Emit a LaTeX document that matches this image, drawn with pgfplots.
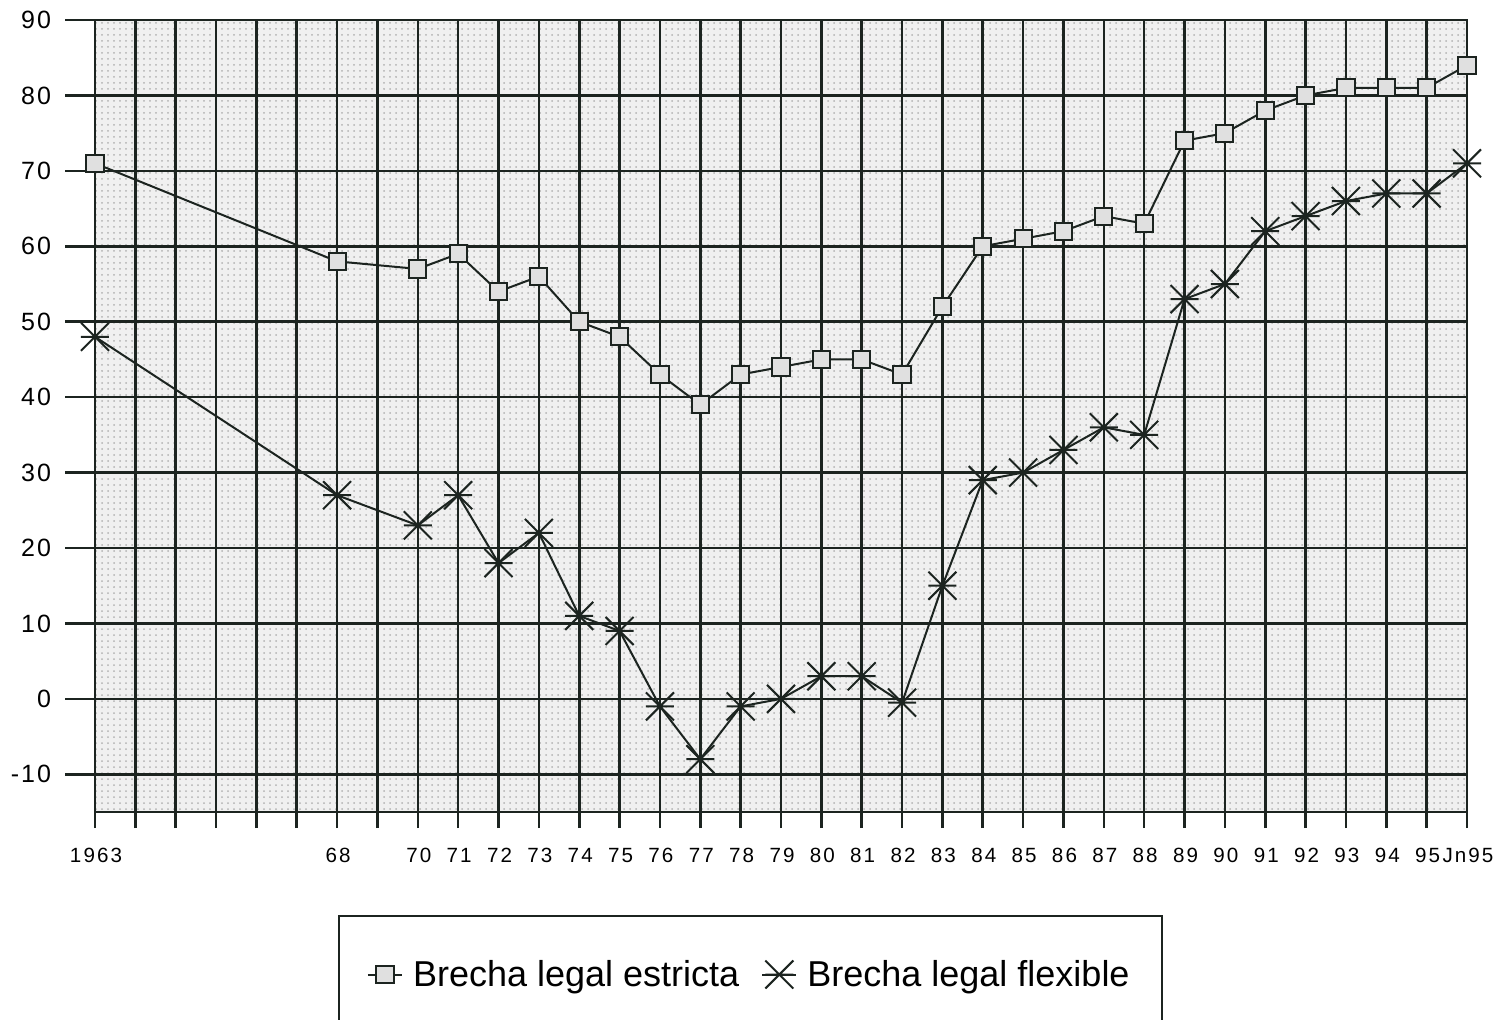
\documentclass[border=0pt]{standalone}
\usepackage{fontspec}
\setmainfont{Liberation Sans}
\newfontfamily\xtrackfont[LetterSpace=10]{Liberation Sans}
\newfontfamily\ytrackfont[LetterSpace=8]{Liberation Sans}
\usepackage{pgfplots}
\usepackage{pgfplotstable}
\pgfplotsset{compat=1.18}
\usetikzlibrary{patterns}
\definecolor{ink}{RGB}{28,36,32}
\pgfdeclareplotmark{xstar}{%
  \pgfpathmoveto{\pgfqpoint{-\pgfplotmarksize}{0pt}}%
  \pgfpathlineto{\pgfqpoint{\pgfplotmarksize}{0pt}}%
  \pgfpathmoveto{\pgfqpoint{-\pgfplotmarksize}{-\pgfplotmarksize}}%
  \pgfpathlineto{\pgfqpoint{\pgfplotmarksize}{\pgfplotmarksize}}%
  \pgfpathmoveto{\pgfqpoint{-\pgfplotmarksize}{\pgfplotmarksize}}%
  \pgfpathlineto{\pgfqpoint{\pgfplotmarksize}{-\pgfplotmarksize}}%
  \pgfusepathqstroke}
\pgfplotstableread{
x y
0 71
6 58
8 57
9 59
10 54
11 56
12 50
13 48
14 43
15 39
16 43
17 44
18 45
19 45
20 43
21 52
22 60
23 61
24 62
25 64
26 63
27 74
28 75
29 78
30 80
31 81
32 81
33 81
34 84
}\estricta
\pgfplotstableread{
x y
0 48
6 27
8 23
9 27
10 18
11 22
12 11
13 9
14 -1
15 -8
16 -1
17 0
18 3
19 3
20 -0.5
21 15
22 29
23 30
24 33
25 36
26 35
27 53
28 55
29 62
30 64
31 66
32 67
33 67
34 71
}\flexible
\begin{document}
\begin{tikzpicture}
\begin{axis}[
  scale only axis, width=686pt, height=396pt,
  xmin=0, xmax=34, ymin=-15, ymax=90,
  xtick={0,...,34},
  xticklabels={1963,,,,,,68,,70,71,72,73,74,75,76,77,78,79,80,81,82,83,84,85,86,87,88,89,90,91,92,93,94,95,Jn95},
  ytick={-10,0,...,90},
  yticklabels={-10,0,10,20,30,40,50,60,70,80,90},
  grid=major,
  grid style={ink, line width=1.3pt},
  axis line style={ink, line width=1.3pt},
  tick style={ink, line width=1.3pt},
  tick pos=left,
  tick align=outside, major tick length=8pt,
  axis background/.style={fill=black!6, postaction={pattern=dots, pattern color=black!30}},
  xticklabel style={font=\xtrackfont\fontsize{10.3}{12}\selectfont, yshift=-6.5pt, xshift=0.5pt},
  yticklabel style={font=\ytrackfont\fontsize{12.5}{14}\selectfont, xshift=-10.5pt},
  clip=false,
  legend columns=2,
  legend style={at={(axis description cs:0.1771,-0.130)}, anchor=north west,
    draw=ink, line width=1pt, fill=none,
    font=\fontsize{18}{21}\selectfont, inner xsep=14pt, inner ysep=20pt,
    /tikz/every even column/.append style={column sep=9pt},
    /tikz/every odd column/.append style={column sep=3pt}},
]
\pgfplotsinvokeforeach{-10,0,...,90}{\draw[ink, line width=1.3pt] (axis cs:0,#1) -- ++(-15pt,0pt);}
\addplot[ink, line width=1pt, mark=square*, mark size=4.3pt,
  mark options={fill=black!12, draw=ink, line width=1pt}] table[x=x,y=y] {\estricta};
\addlegendentry{Brecha legal estricta}
\addplot[ink, line width=1pt, mark=xstar, mark size=7pt,
  mark options={draw=ink, line width=1pt}] table[x=x,y=y] {\flexible};
\addlegendentry{Brecha legal flexible}
\end{axis}
\pgfresetboundingbox
\path (-47.5pt,-103.5pt) rectangle (702pt,406pt);
\end{tikzpicture}
\end{document}
